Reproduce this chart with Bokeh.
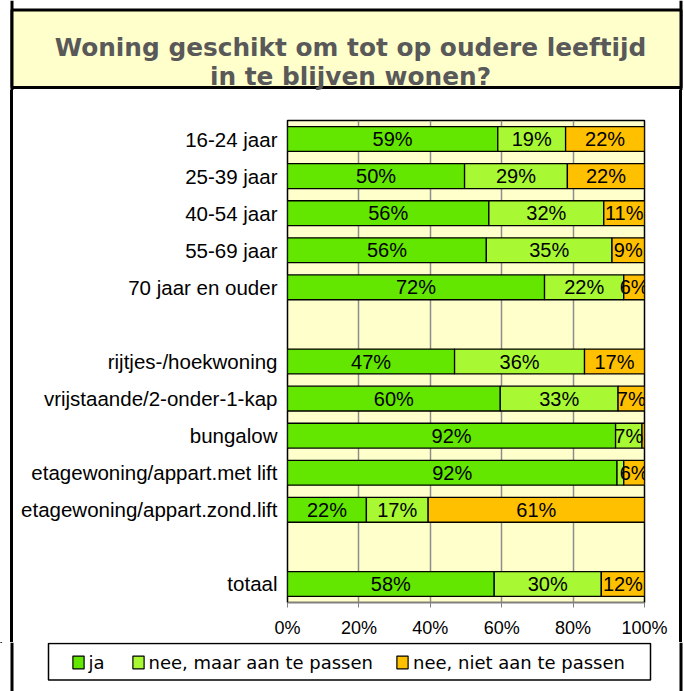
from bokeh.plotting import figure
from bokeh.layouts import column, row
from bokeh.models import (ColumnDataSource, FactorRange, LabelSet, Legend, LegendItem,
                          FixedTicker, PrintfTickFormatter, Range1d, Div)
from bokeh.core.properties import value
from bokeh.embed import file_html
from bokeh.resources import INLINE

# ---------------- data ----------------
categories = ["16-24 jaar", "25-39 jaar", "40-54 jaar", "55-69 jaar", "70 jaar en ouder",
              "rijtjes-/hoekwoning", "vrijstaande/2-onder-1-kap", "bungalow",
              "etagewoning/appart.met lift", "etagewoning/appart.zond.lift", "totaal"]
ja = [58.9, 49.6, 56.4, 55.7, 72.0, 46.8, 59.6, 91.9, 92.3, 22.1, 57.9]
nee_aan_te_passen = [19.0, 28.8, 32.2, 35.2, 22.2, 36.4, 33.0, 7.4, 1.9, 17.3, 30.0]
nee_niet_aan_te_passen = [22.1, 21.6, 11.4, 9.1, 5.8, 16.8, 7.4, 0.7, 5.8, 60.6, 12.1]
series_names = ["ja", "nee, maar aan te passen", "nee, niet aan te passen"]
x_ticks = [0, 20, 40, 60, 80, 100]
title_lines = ["Woning geschikt om tot op oudere leeftijd", "in te blijven wonen?"]

colors = ["#63E600", "#A8F833", "#FFC000"]
TOTAL_W = 684
LEFT_X, RIGHT_X = 11.5, 680.5   # outer frame lines


def blank_fig(w, h):
    return figure(width=w, height=h, x_range=Range1d(0, w), y_range=Range1d(h, 0),
                  output_backend="svg", toolbar_location=None, min_border=0,
                  x_axis_type=None, y_axis_type=None, outline_line_color=None,
                  background_fill_color="white", border_fill_color="white")


# ---------------- title block ----------------
TH = 90
tfig = blank_fig(TOTAL_W, TH)
tfig.segment(x0=[LEFT_X, RIGHT_X], y0=[0, 0], x1=[LEFT_X, RIGHT_X], y1=[TH, TH],
             line_color="black", line_width=3)
tfig.quad(left=[LEFT_X], right=[RIGHT_X], top=[9.5], bottom=[87],
          fill_color="#FFFFCC", line_color="black", line_width=3)
tfig.text(x=[350, 350], y=[46.7, 76], text=title_lines,
          text_align="center", text_baseline="alphabetic",
          text_font=value("DejaVu Sans"), text_font_style="bold",
          text_font_size="24.8px", text_color="#595959")

# ---------------- main chart ----------------
MH = 552
factors = categories[:5] + [" "] + categories[5:10] + ["  "] + categories[10:]
src = ColumnDataSource(dict(cat=categories, s0=ja, s1=nee_aan_te_passen, s2=nee_niet_aan_te_passen))

lx, ly, lt = [], [], []
for i, c in enumerate(categories):
    start = 0.0
    for vals in (ja, nee_aan_te_passen, nee_niet_aan_te_passen):
        v = vals[i]
        lx.append(start + v / 2.0)
        ly.append(c)
        lt.append(f"{round(v)}%" if v >= 3 else "")
        start += v
lab_src = ColumnDataSource(dict(x=lx, y=ly, text=lt))

p = figure(width=658, height=MH,
           y_range=FactorRange(factors=list(reversed(factors))),
           x_range=Range1d(0, 100),
           output_backend="svg", toolbar_location=None,
           min_border_left=271, min_border_right=30, min_border_top=30, min_border_bottom=40,
           background_fill_color="#FFFFCC", border_fill_color="white",
           outline_line_color="black", outline_line_width=1.5)

renderers = p.hbar_stack(["s0", "s1", "s2"], y="cat", height=0.67, source=src,
                         fill_color=colors, line_color="black", line_width=1.3)

p.add_layout(LabelSet(x="x", y="y", text="text", source=lab_src,
                      text_align="center", text_baseline="middle",
                      text_font=value("Liberation Sans"), text_font_size="20px",
                      text_color="black"))

p.xaxis.ticker = FixedTicker(ticks=x_ticks)
p.xaxis.formatter = PrintfTickFormatter(format="%d%%")
p.xaxis.major_label_text_font = "Liberation Sans"
p.xaxis.major_label_text_font_size = "18px"
p.xaxis.major_label_text_color = "black"
p.xaxis.axis_line_color = "#808080"
p.xaxis.major_tick_line_color = "#808080"
p.xaxis.major_tick_out = 5
p.xaxis.major_tick_in = 0
p.xaxis.minor_tick_line_color = None
p.xaxis.major_label_standoff = 10

p.yaxis.major_label_text_font = "Liberation Sans"
p.yaxis.major_label_text_font_size = "20.5px"
p.yaxis.major_label_text_color = "black"
p.yaxis.axis_line_color = None
p.yaxis.major_tick_line_color = None
p.yaxis.minor_tick_line_color = None
p.yaxis.major_tick_out = 0
p.yaxis.major_tick_in = 0
p.yaxis.major_label_standoff = 10

p.xgrid.grid_line_color = "#8C8C8C"
p.xgrid.grid_line_width = 1.5
p.ygrid.grid_line_color = None

# side strips carrying the outer frame lines
lstrip = Div(text="", width=16, height=MH, margin=0,
             styles={"background": "linear-gradient(to right, #ffffff 0px, #ffffff 10px, "
                                   "#000000 10px, #000000 13px, #ffffff 13px, #ffffff 16px)"})
rstrip = Div(text="", width=10, height=MH, margin=0,
             styles={"background": "linear-gradient(to right, #ffffff 0px, #ffffff 5px, "
                                   "#000000 5px, #000000 8px, #ffffff 8px, #ffffff 10px)"})

# ---------------- legend block ----------------
LH = 691 - TH - MH
lfig = blank_fig(TOTAL_W, LH)
lfig.segment(x0=[LEFT_X, RIGHT_X], y0=[0, 0], x1=[LEFT_X, RIGHT_X], y1=[LH, LH],
             line_color="black", line_width=3)
lfig.quad(left=[48], right=[650], top=[1], bottom=[37.5],
          fill_color="white", line_color="black", line_width=1.5)
dummies = [lfig.hbar(y=[-100], right=[1], height=1, fill_color=c, line_color="black", line_width=1.2)
           for c in colors]
legend = Legend(items=[LegendItem(label=n, renderers=[r]) for n, r in zip(series_names, dummies)],
                orientation="horizontal", location=(70.5, 18.5),
                border_line_color=None, background_fill_alpha=0.0,
                padding=0, margin=0, spacing=22, label_standoff=4,
                glyph_width=14, glyph_height=16, label_height=20,
                label_text_font="DejaVu Sans", label_text_font_size="18px",
                label_text_color="black")
lfig.add_layout(legend)

layout = column(tfig, row(lstrip, p, rstrip), lfig)
open("out.html", "w").write(file_html(layout, INLINE))
